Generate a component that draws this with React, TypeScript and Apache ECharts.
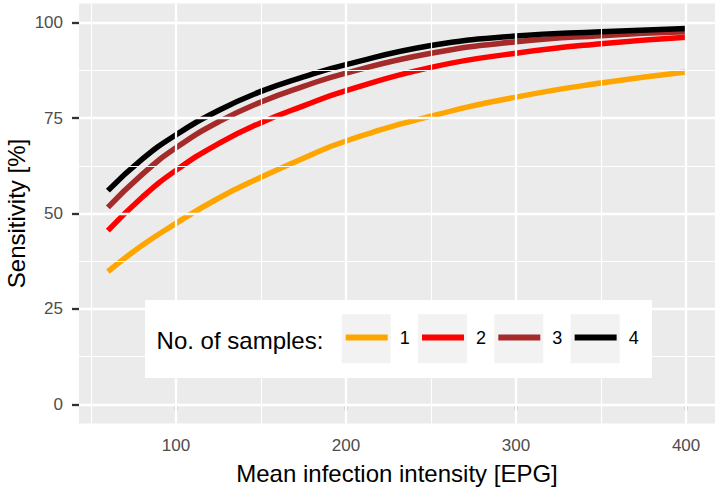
import React, { useEffect, useRef } from "react";
import * as echarts from "echarts";

// Mean infection intensity [EPG]
const intensity = [60, 80, 100, 125, 150, 175, 200, 250, 300, 350, 400];
// Sensitivity [%] by number of samples
const sens1 = [34.8, 41.6, 47.4, 54.0, 59.5, 64.5, 69.0, 75.5, 80.5, 84.2, 87.1];
const sens2 = [45.5, 54.2, 61.3, 68.3, 73.8, 78.2, 82.2, 88.3, 92.0, 94.5, 96.2];
const sens3 = [51.6, 60.2, 67.2, 74.0, 79.2, 83.3, 86.8, 92.0, 95.0, 96.6, 97.6];
const sens4 = [56.0, 64.2, 70.6, 77.0, 82.0, 85.8, 89.0, 94.0, 96.5, 97.6, 98.5];

const sampleNames = ["1", "2", "3", "4"];
const sampleColors = ["#FFA500", "#FF0000", "#A52A2A", "#000000"];
const allSeries = [sens1, sens2, sens3, sens4];

const xTicks = [100, 200, 300, 400];
const xMinor = [50, 150, 250, 350];
const yTicks = [0, 25, 50, 75, 100];
const yMinor = [12.5, 37.5, 62.5, 87.5];
const xRange = [43, 417];
const yRange = [-5, 105];

const FONT = "'Liberation Sans', Arial, Helvetica, sans-serif";

export default function App() {
  const ref = useRef<HTMLDivElement>(null);

  useEffect(() => {
    if (!ref.current) return;
    const chart = echarts.init(ref.current, undefined, { renderer: "svg" });

    const major = { color: "#FFFFFF", width: 2.3, type: "solid" as const };
    const minor = { color: "#FFFFFF", width: 1.15, type: "solid" as const };

    const gridLines = [
      ...xMinor.map((v) => ({ xAxis: v, lineStyle: minor })),
      ...yMinor.map((v) => ({ yAxis: v, lineStyle: minor })),
      ...xTicks.map((v) => ({ xAxis: v, lineStyle: major })),
      ...yTicks.map((v) => ({ yAxis: v, lineStyle: major })),
    ];

    const keyX0 = 341.7;
    const keyStep = 76.3;

    const option: any = {
      animation: false,
      textStyle: { fontFamily: FONT },
      grid: {
        left: 79,
        right: 5,
        top: 3.6,
        bottom: 67.6,
        show: true,
        backgroundColor: "#EBEBEB",
        borderWidth: 0,
        containLabel: false,
        outerBoundsMode: "none",
      },
      xAxis: {
        type: "value",
        min: xRange[0],
        max: xRange[1],
        name: "Mean infection intensity [EPG]",
        nameLocation: "middle",
        nameGap: 38,
        nameMoveOverlap: false,
        nameTextStyle: { fontSize: 24, color: "#000000", fontFamily: FONT },
        axisLine: { show: false },
        axisTick: {
          show: true,
          length: 6,
          lineStyle: { color: "#333333", width: 2.3 },
          customValues: xTicks,
        },
        axisLabel: {
          customValues: xTicks,
          fontSize: 17,
          color: "#4D4D4D",
          margin: 14,
          fontFamily: FONT,
        },
        splitLine: { show: false },
      },
      yAxis: {
        type: "value",
        min: yRange[0],
        max: yRange[1],
        name: "Sensitivity [%]",
        nameLocation: "middle",
        nameGap: 51,
        nameMoveOverlap: false,
        nameTextStyle: { fontSize: 24, color: "#000000", fontFamily: FONT },
        axisLine: { show: false },
        axisTick: {
          show: true,
          length: 7,
          lineStyle: { color: "#333333", width: 2.3 },
          customValues: yTicks,
        },
        axisLabel: {
          customValues: yTicks,
          fontSize: 17,
          color: "#4D4D4D",
          margin: 16,
          fontFamily: FONT,
        },
        splitLine: { show: false },
      },
      legend: {
        data: sampleNames.map((n) => ({ name: n, icon: "rect" })),
        orient: "horizontal",
        left: 345.7,
        top: 328.5,
        itemWidth: 42,
        itemHeight: 6,
        itemGap: 12.3,
        selectedMode: false,
        padding: 0,
        z: 20,
        textStyle: {
          fontSize: 18,
          color: "#000000",
          fontFamily: FONT,
          padding: [0, 0, 0, 7],
        },
      },
      graphic: [
        {
          type: "rect",
          z: 10,
          shape: { x: 145, y: 300, width: 507, height: 78 },
          style: { fill: "#FFFFFF" },
          silent: true,
        },
        ...sampleNames.map((_, i) => ({
          type: "rect",
          z: 11,
          shape: { x: keyX0 + i * keyStep, y: 314.3, width: 49, height: 49 },
          style: { fill: "#F2F2F2" },
          silent: true,
        })),
        {
          type: "text",
          z: 12,
          x: 156.6,
          y: 340,
          style: {
            text: "No. of samples:",
            fontSize: 24,
            fontFamily: FONT,
            fill: "#000000",
            verticalAlign: "middle",
            align: "left",
          },
          silent: true,
        },
      ],
      series: [
        {
          name: "grid",
          type: "line",
          data: [],
          z: 1,
          silent: true,
          markLine: {
            silent: true,
            symbol: ["none", "none"],
            label: { show: false },
            emphasis: { disabled: true },
            animation: false,
            data: gridLines,
          },
        },
        ...allSeries.map((vals, i) => ({
          name: sampleNames[i],
          type: "line",
          data: intensity.map((x, j) => [x, vals[j]]),
          smooth: 0.5,
          symbol: "none",
          showSymbol: false,
          z: 3,
          lineStyle: { color: sampleColors[i], width: 5.5 },
          itemStyle: { color: sampleColors[i] },
          emphasis: { disabled: true },
        })),
      ],
    };

    chart.setOption(option);
    return () => chart.dispose();
  }, []);

  return (
    <div
      ref={ref}
      style={{ position: "fixed", left: 0, top: 0, width: 720, height: 491, background: "#FFFFFF" }}
    />
  );
}
